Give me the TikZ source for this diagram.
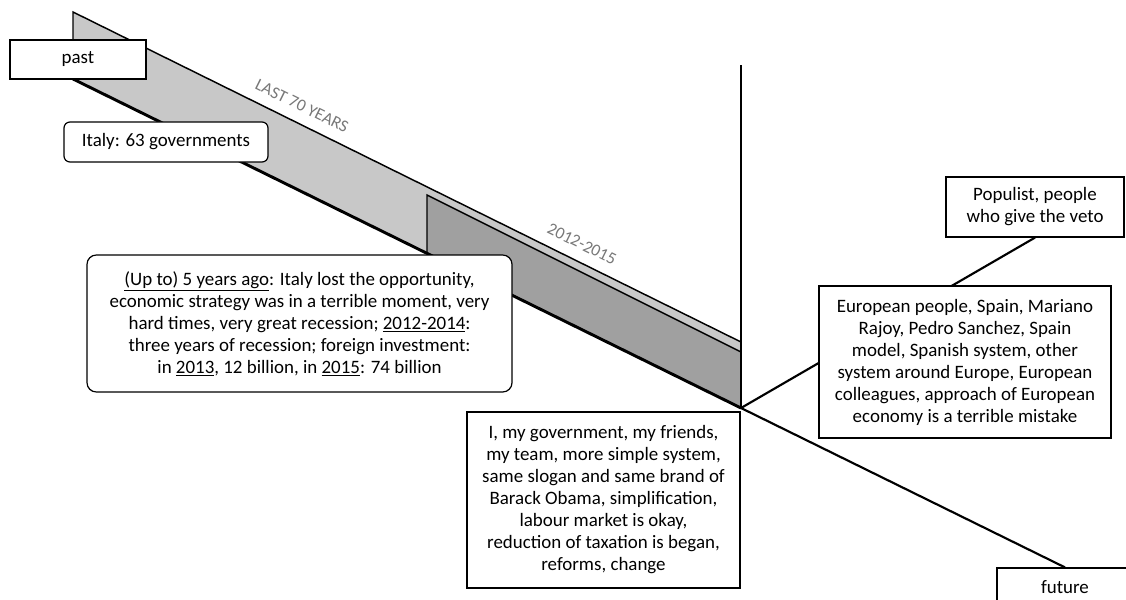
\documentclass[tikz,border=0pt]{standalone}
\usepackage{fontspec}
\setmainfont{Carlito}
\usetikzlibrary{positioning}
\definecolor{bandlight}{RGB}{200,200,200}
\definecolor{banddark}{RGB}{160,160,160}
\definecolor{eragray}{RGB}{120,120,120}

\begin{document}
\begin{tikzpicture}[
  x=0.75pt, y=-0.75pt,
  box/.style={
    draw,
    fill=white,
    line width=0.9pt,
    align=center,
    inner sep=0pt,
    font=\fontsize{14.2}{16.5}\selectfont
  },
  softbox/.style={box, rounded corners=#1},
  softbox/.default=7pt,
  axis/.style={line width=1.6pt},
  rim/.style={line width=1.1pt},
  era/.style={text=eragray, font=\fontsize{12.8}{14}\selectfont, rotate=-26.3}
]
\clip (0,0) rectangle (1126,599);

% time ribbon running from the past into the present
\coordinate (now) at (741,408);
\coordinate (top) at (741,65);
\fill[bandlight] (73,12) -- (741,342) -- (now) -- (73,79) -- cycle;
\filldraw[fill=banddark, rim] (427,195) -- (741,352) -- (now) -- (427,253) -- cycle;
\draw[rim] (73,79) -- (73,12) -- (741,342);
\draw[line width=2.2pt] (73,79) -- (now);

\node[era] (last70) at (302,106) {LAST 70 YEARS};
\node[era] (recent) at (582,244) {2012-2015};

% boxes
\node[box, minimum width=102pt, minimum height=29.25pt] (past) at (78,59.5) {past};
\node[box, minimum width=102pt, minimum height=29.25pt] (future) at (1065,587.5) {future};
\node[box, minimum width=133.5pt, minimum height=45pt] (populist) at (1035,207)
  {Populist, people\\who give the veto};

\draw[axis] (now) -- (top);
\draw[axis] (now) -- (populist.south);
\draw[axis] (now) -- (future.north);

\node[softbox=4.5pt, minimum width=153pt, minimum height=30pt] (italy) at (166,142)
  {Italy: 63 governments};
\node[softbox, minimum width=318.75pt, minimum height=102.75pt] (lost) at (299.5,323.5)
  {\underline{(Up to) 5 years ago}: Italy lost the opportunity,\\
   economic strategy was in a terrible moment, very\\
   hard times, very great recession; \underline{2012-2014}:\\
   three years of recession; foreign investment:\\
   in \underline{2013}, 12 billion, in \underline{2015}: 74 billion};
\node[box, minimum width=204.75pt, minimum height=132pt] (me) at (603.5,500)
  {I, my government, my friends,\\
   my team, more simple system,\\
   same slogan and same brand of\\
   Barack Obama, simplification,\\
   labour market is okay,\\
   reduction of taxation is began,\\
   reforms, change};
\node[box, minimum width=219pt, minimum height=114pt] (europe) at (965,362)
  {European people, Spain, Mariano\\
   Rajoy, Pedro Sanchez, Spain\\
   model, Spanish system, other\\
   system around Europe, European\\
   colleagues, approach of European\\
   economy is a terrible mistake};
\end{tikzpicture}
\end{document}
